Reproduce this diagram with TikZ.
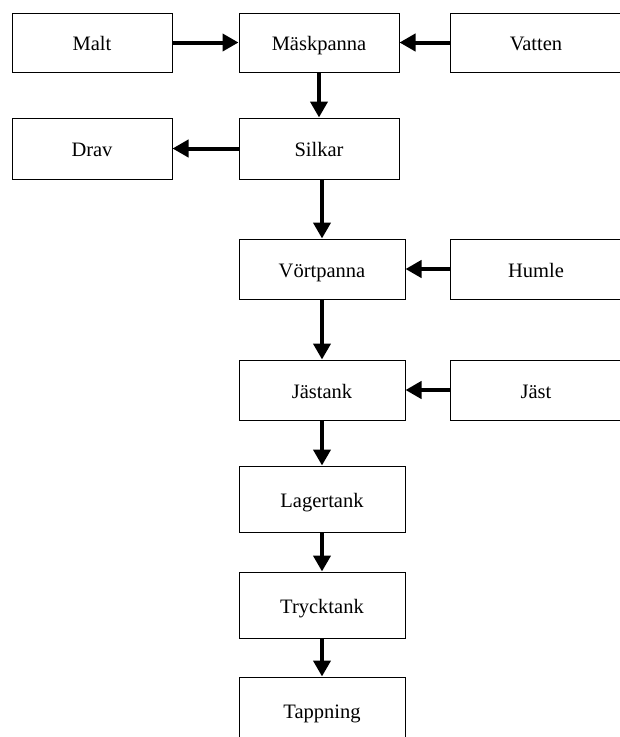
\documentclass[tikz,border=0pt]{standalone}
\usepackage{fontspec}
\setmainfont{Liberation Serif}
\usepackage{tikz}
\usetikzlibrary{shapes,arrows.meta,positioning,calc}

\tikzset{
    stage/.style={draw, line width=1pt, inner sep=0pt, minimum width=160pt, minimum height=60pt,
        text height=16pt, text depth=0pt, font=\fontsize{20.5}{24}\selectfont},
    flow/.style={line width=4pt, -{Triangle[length=16pt,width=17pt]}}
}

\begin{document}
\begin{tikzpicture}[x=1pt, y=-1pt]
    \useasboundingbox (0,0) rectangle (620,737);
    % Mäskning
    \node[stage, minimum height=59pt] (malt) at (92,42.5) {Malt};
    \node[stage, minimum height=59pt] (mask) at (319,42.5) {Mäskpanna};
    \node[stage, minimum height=59pt, minimum width=172pt] (vatten) at (536,42.5) {Vatten};
    \node[stage, minimum height=61pt] (drav) at (92,148.5) {Drav};
    \node[stage, minimum height=61pt] (silkar) at (319,148.5) {Silkar};
    % Kokning och jäsning
    \node[stage, minimum width=166pt] (wort) at (322,269) {Vörtpanna};
    \node[stage, minimum width=172pt] (humle) at (536,269) {Humle};
    \node[stage, minimum width=166pt] (jastank) at (322,390) {Jästank};
    \node[stage, minimum width=172pt] (jast) at (536,390) {Jäst};
    \node[stage, minimum width=166pt, minimum height=66pt] (lager) at (322,499) {Lagertank};
    \node[stage, minimum width=166pt, minimum height=66pt] (tryck) at (322,605) {Trycktank};
    \node[stage, minimum width=166pt, minimum height=66pt] (tapp) at (322,710) {Tappning};

    % Flöden
    \draw[flow] (malt.east) -- (mask.west);
    \draw[flow] (vatten.west) -- (mask.east);
    \draw[flow] (mask.south) -- (silkar.north);
    \draw[flow] (silkar.west) -- (drav.east);
    \draw[flow] (wort.north |- silkar.south) -- (wort.north);
    \draw[flow] (humle.west) -- (wort.east);
    \draw[flow] (wort.south) -- (jastank.north);
    \draw[flow] (jast.west) -- (jastank.east);
    \draw[flow] (jastank.south) -- (lager.north);
    \draw[flow] (lager.south) -- (tryck.north);
    \draw[flow] (tryck.south) -- (tapp.north);
\end{tikzpicture}
\end{document}
